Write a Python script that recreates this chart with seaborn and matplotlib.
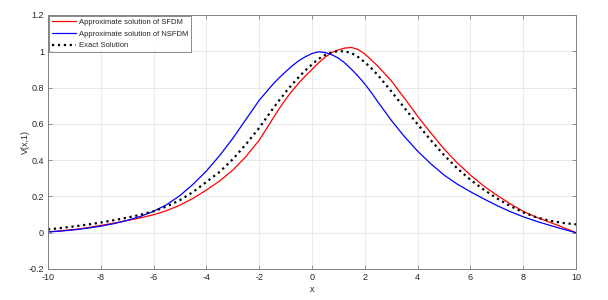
# Approximate vs exact solution V(x,1), MATLAB-style figure
import numpy as np
import pandas as pd
import seaborn as sns
import matplotlib.pyplot as plt

# %%
# values (finer steps around the peaks)
x = [-10, -9.5, -9, -8.5, -8, -7.5, -7, -6.5, -6, -5.5, -5, -4.5, -4, -3.5,
     -3, -2.5, -2,
     -1.5, -1.25, -1, -0.75, -0.5, -0.25, 0, 0.25, 0.5, 0.75, 1, 1.25, 1.5,
     1.75, 2, 2.25, 2.5,
     3, 3.5, 4, 4.5, 5, 5.5, 6, 6.5, 7, 7.5, 8, 8.5, 9, 9.5, 10]

sfdm = [0.005, 0.011, 0.018, 0.028, 0.040, 0.053, 0.067, 0.082, 0.099, 0.122,
        0.152, 0.190, 0.235, 0.285, 0.345, 0.420, 0.510,
        0.625, 0.682, 0.735, 0.782, 0.825, 0.864, 0.900, 0.936, 0.968, 0.993,
        1.008, 1.018, 1.021, 1.010, 0.985, 0.952, 0.917,
        0.838, 0.742, 0.642, 0.550, 0.462, 0.385, 0.318, 0.258, 0.207, 0.160,
        0.118, 0.085, 0.058, 0.030, 0.000]

nsfdm = [0.004, 0.009, 0.016, 0.025, 0.036, 0.050, 0.068, 0.090, 0.118, 0.155,
         0.205, 0.268, 0.340, 0.425, 0.520, 0.625, 0.730,
         0.815, 0.853, 0.887, 0.920, 0.948, 0.970, 0.988, 0.997, 0.993, 0.981,
         0.962, 0.935, 0.900, 0.862, 0.820, 0.772, 0.720,
         0.620, 0.530, 0.450, 0.380, 0.318, 0.268, 0.226, 0.187, 0.150, 0.117,
         0.088, 0.063, 0.041, 0.020, 0.000]

exact = [0.018, 0.026, 0.035, 0.045, 0.056, 0.069, 0.083, 0.099, 0.118, 0.145,
         0.180, 0.225, 0.280, 0.335, 0.405, 0.488, 0.578,
         0.680, 0.728, 0.775, 0.818, 0.858, 0.895, 0.928, 0.958, 0.980, 0.995,
         1.001, 0.999, 0.990, 0.968, 0.940, 0.906, 0.868,
         0.780, 0.688, 0.598, 0.510, 0.428, 0.355, 0.292, 0.238, 0.190, 0.148,
         0.112, 0.085, 0.066, 0.054, 0.046]

xticks = [-10, -8, -6, -4, -2, 0, 2, 4, 6, 8, 10]
yticks = [-0.2, 0, 0.2, 0.4, 0.6, 0.8, 1, 1.2]
yticklabels = ['-0.2', '0', '0.2', '0.4', '0.6', '0.8', '1', '1.2']

data = pd.DataFrame({'x': x, 'sfdm': sfdm, 'nsfdm': nsfdm, 'exact': exact})

# %%
sns.set_style('whitegrid')
plt.rcParams['font.family'] = ['Liberation Sans', 'DejaVu Sans']
plt.rcParams['axes.unicode_minus'] = False

fig = plt.figure(figsize=(6.08, 3.0), dpi=100)
ax = fig.add_axes([48/608, 31/300, 528/608, 254/300])

sns.lineplot(data=data, x='x', y='sfdm', ax=ax, color='#ff0000', linewidth=0.9,
             label='Approximate solution of SFDM')
sns.lineplot(data=data, x='x', y='nsfdm', ax=ax, color='#0000ff', linewidth=0.9,
             label='Approximate solution of NSFDM')
sns.lineplot(data=data, x='x', y='exact', ax=ax, color='black', linewidth=1.6,
             linestyle=':', label='Exact Solution')

ax.set_xlim(-10, 10)
ax.set_ylim(-0.2, 1.2)
ax.set_xticks(xticks)
ax.set_yticks(yticks)
ax.set_yticklabels(yticklabels)
ax.set_xlabel('x', fontsize=6.5, labelpad=2)
ax.set_ylabel('V(x,1)', fontsize=6.5, labelpad=-1)

ax.grid(True, color='#e6e6e6', linewidth=0.6)
for s in ax.spines.values():
    s.set_visible(True)
    s.set_color('#7f7f7f')
    s.set_linewidth(0.7)
ax.tick_params(direction='in', length=3, width=0.6, color='#7f7f7f',
               labelsize=6.5, labelcolor='#262626', top=True, right=True,
               left=True, bottom=True, pad=3)

leg = ax.legend(loc='upper left', fontsize=5.5, frameon=True, fancybox=False,
                borderaxespad=0.15, handlelength=3.2, handletextpad=0.3,
                labelspacing=0.55, borderpad=0.35)
leg.get_frame().set_edgecolor('#555555')
leg.get_frame().set_linewidth(0.6)

fig.savefig('out.png', dpi=100)
